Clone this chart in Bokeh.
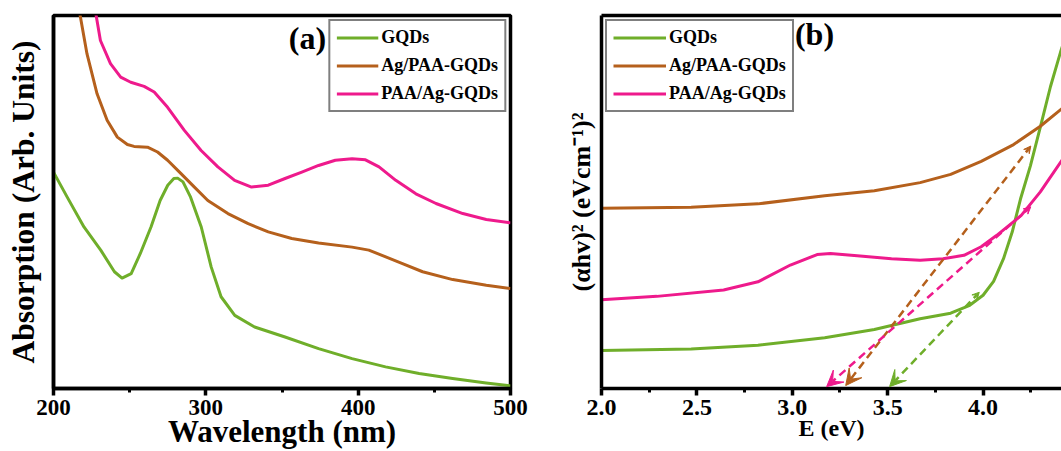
from bokeh.plotting import figure
from bokeh.layouts import row
from bokeh.models import (Legend, LegendItem, Label, LinearAxis, FixedTicker,
                          Range1d, Arrow, VeeHead, PrintfTickFormatter)
from bokeh.embed import file_html
from bokeh.resources import INLINE

# ---------------- data: panel (a) UV-vis absorption ----------------
gqd_wl = [200, 209, 220, 231, 240, 245, 251, 257, 264, 270, 275, 279, 281.5, 285,
          290, 297, 303.5, 310, 319, 332, 352, 374, 396, 418, 440, 462, 484, 500]
gqd_abs = [58.0, 51.3, 43.3, 37.1, 31.3, 29.6, 30.8, 36.2, 43.3, 50.4, 54.5, 56.3, 56.4, 55.4,
           51.3, 43.3, 32.6, 24.6, 19.6, 16.5, 13.8, 10.7, 8.0, 5.8, 4.0, 2.7, 1.5, 0.7]

agpaa_wl = [212, 217.5, 222, 228.6, 235.2, 241.9, 248.5, 252.9, 261.7, 268.3, 274.9, 283.7,
            292.5, 301.3, 314.5, 327.8, 341, 356.4, 374, 396, 407, 418.1, 429.1, 442.3,
            462.1, 484.1, 500]
agpaa_abs = [110, 100, 89.7, 79.0, 71.9, 67.4, 65.4, 64.9, 64.7, 63.4, 61.2, 57.6,
             54.0, 50.4, 46.9, 44.2, 42.0, 40.2, 39.0, 37.9, 37.1, 35.3, 33.5, 31.3,
             29.2, 27.7, 26.8]

paaag_wl = [224, 228, 230.8, 237.4, 244.1, 250.7, 259.5, 266.1, 274.9, 285.9, 296.9, 307.9,
            318.9, 330, 341, 352, 363, 374, 385, 396, 404.8, 413.7, 424.7, 437.9, 451.1,
            468.7, 484.1, 500]
paaag_abs = [110, 100, 93.3, 87.1, 83.5, 82.1, 81.0, 79.5, 75.4, 69.2, 63.8, 59.4,
             55.8, 54.0, 54.5, 56.3, 58.0, 59.8, 61.2, 61.6, 61.3, 59.4, 55.8, 52.2, 49.6,
             46.9, 45.3, 44.4]

a_ticks = [200, 300, 400, 500]
a_minor = [250, 350, 450]

# ---------------- data: panel (b) Tauc plot ----------------
gqd_E = [2.0, 2.47, 2.82, 3.17, 3.43, 3.67, 3.83, 3.93, 4.00, 4.055, 4.107, 4.153, 4.196,
         4.248, 4.301, 4.353, 4.406, 4.43]
gqd_tauc = [10.2, 10.6, 11.6, 13.6, 15.8, 18.7, 20.2, 22.3, 25.0, 28.7, 34.8, 42.0, 50.8,
            59.7, 70.3, 80.9, 90.2, 94.0]

agpaa_E = [2.0, 2.47, 2.82, 3.17, 3.43, 3.67, 3.83, 3.99, 4.16, 4.30, 4.42]
agpaa_tauc = [48.3, 48.6, 49.5, 51.7, 53.0, 55.2, 57.4, 60.9, 65.4, 70.3, 75.3]

paaag_E = [2.0, 2.29, 2.64, 2.82, 2.99, 3.13, 3.20, 3.34, 3.52, 3.67, 3.79, 3.90, 3.99,
           4.07, 4.20, 4.30, 4.42]
paaag_tauc = [23.8, 24.7, 26.4, 28.6, 33.1, 35.9, 36.2, 35.6, 34.8, 34.4, 34.8, 35.7, 38.0,
              41.0, 46.4, 52.7, 61.7]

# tangent (band-gap extrapolation) lines: GQDs, Ag/PAA-GQDs, PAA/Ag-GQDs
tan_E_top = [3.98, 4.25, 4.25]
tan_V_top = [25.8, 65.0, 48.7]
tan_E_end = [3.51, 3.28, 3.18]
tan_V_end = [0.5, 0.8, 0.5]

b_ticks = [2.0, 2.5, 3.0, 3.5, 4.0]
b_minor = [2.25, 2.75, 3.25, 3.75, 4.25]

labels = ["GQDs", "Ag/PAA-GQDs", "PAA/Ag-GQDs"]

# ---------------- styling ----------------
FONT = "Liberation Serif"
GREEN = "#6FAE2A"
BROWN = "#B5601C"
PINK = "#EE1A8C"
COLORS = [GREEN, BROWN, PINK]
LW = 3.5


def style_x(ax, ticks, minor, size):
    ax.ticker = FixedTicker(ticks=ticks, minor_ticks=minor)
    ax.axis_line_width = LW
    ax.axis_line_color = "black"
    ax.major_tick_line_width = LW
    ax.minor_tick_line_width = 3
    ax.major_tick_in = 0
    ax.major_tick_out = 7
    ax.minor_tick_in = 0
    ax.minor_tick_out = 4
    ax.major_label_text_font = FONT
    ax.major_label_text_font_style = "bold"
    ax.major_label_text_font_size = size
    ax.major_label_text_color = "black"
    ax.major_label_standoff = 4
    ax.axis_label_text_font = FONT
    ax.axis_label_text_font_style = "bold"
    ax.axis_label_text_color = "black"


def style_y(ax):
    ax.ticker = FixedTicker(ticks=[])
    ax.axis_line_width = LW
    ax.axis_line_color = "black"
    ax.major_tick_line_color = None
    ax.minor_tick_line_color = None
    ax.axis_label_text_font = FONT
    ax.axis_label_text_font_style = "bold"
    ax.axis_label_text_color = "black"


def make_legend(renderers, location, glyph_width):
    leg = Legend(items=[LegendItem(label=l, renderers=[r]) for l, r in zip(labels, renderers)],
                 location=location, margin=4, padding=6, spacing=7,
                 glyph_width=glyph_width, glyph_height=21, label_height=21,
                 label_standoff=3,
                 label_text_font=FONT, label_text_font_style="bold",
                 label_text_font_size="18px", label_text_color="black",
                 border_line_color="black", border_line_width=2.5,
                 background_fill_alpha=1)
    return leg


def text_label(x, y, txt, size):
    return Label(x=x, y=y, x_units="screen", y_units="screen", text=txt,
                 text_font=FONT, text_font_style="bold", text_font_size=size,
                 text_align="center", text_baseline="middle", text_color="black")


# ---------------- panel (a) ----------------
pa = figure(width=545, height=451, x_range=Range1d(200, 500), y_range=Range1d(0, 100),
            output_backend="svg", toolbar_location=None,
            min_border_left=53, min_border_right=35, min_border_top=15, min_border_bottom=63)
pa.grid.visible = False
pa.outline_line_color = "black"
pa.outline_line_width = LW
pa.outline_line_alpha = 1
pa.background_fill_color = "white"
pa.border_fill_color = "white"

ra = []
for xs, ys, c in [(gqd_wl, gqd_abs, GREEN), (agpaa_wl, agpaa_abs, BROWN), (paaag_wl, paaag_abs, PINK)]:
    ra.append(pa.line(xs, ys, line_color=c, line_width=3, line_join="round"))

style_x(pa.xaxis[0], a_ticks, a_minor, "23px")
pa.xaxis[0].axis_label = "Wavelength (nm)"
pa.xaxis[0].axis_label_text_font_size = "31px"
pa.xaxis[0].axis_label_standoff = -4
style_y(pa.yaxis[0])
pa.yaxis[0].axis_label = "Absorption (Arb. Units)"
pa.yaxis[0].axis_label_text_font_size = "31.5px"
pa.yaxis[0].axis_label_standoff = 13

pa.add_layout(make_legend(ra, "top_right", 42))
pa.add_layout(text_label(254, 351, "(a)", "32px"))

# ---------------- panel (b) ----------------
pb = figure(width=516, height=451, x_range=Range1d(2.0, 4.411), y_range=Range1d(0, 100),
            output_backend="svg", toolbar_location=None,
            min_border_left=56, min_border_right=0, min_border_top=15, min_border_bottom=60)
pb.grid.visible = False
pb.outline_line_color = None
pb.background_fill_color = "white"
pb.border_fill_color = "white"

rb = []
for xs, ys, c in [(gqd_E, gqd_tauc, GREEN), (agpaa_E, agpaa_tauc, BROWN), (paaag_E, paaag_tauc, PINK)]:
    rb.append(pb.line(xs, ys, line_color=c, line_width=3, line_join="round"))

for i, c in enumerate(COLORS):
    pb.add_layout(Arrow(x_start=tan_E_top[i], y_start=tan_V_top[i],
                        x_end=tan_E_end[i], y_end=tan_V_end[i],
                        line_color=c, line_width=2.5, line_dash="8 5",
                        start=VeeHead(size=7, fill_color=c, line_color=c, line_width=1),
                        end=VeeHead(size=16, fill_color=c, line_color=c, line_width=1)))

style_x(pb.xaxis[0], b_ticks, b_minor, "24px")
pb.xaxis[0].formatter = PrintfTickFormatter(format="%.1f")
pb.xaxis[0].axis_label = "E (eV)"
pb.xaxis[0].axis_label_text_font_size = "24px"
pb.xaxis[0].axis_label_standoff = -3
style_y(pb.yaxis[0])
pb.yaxis[0].axis_label = "(\u03b1hv)\u00b2 (eVcm\u207b\u00b9)\u00b2"
pb.yaxis[0].axis_label_text_font_size = "26px"
pb.yaxis[0].axis_label_standoff = 6

top_ax = LinearAxis(ticker=FixedTicker(ticks=[]), axis_line_width=LW, axis_line_color="black",
                    major_tick_line_color=None, minor_tick_line_color=None)
pb.add_layout(top_ax, "above")

pb.add_layout(make_legend(rb, "top_left", 53))
pb.add_layout(text_label(213, 355, "(b)", "32px"))

layout = row(pa, pb)
open("out.html", "w").write(file_html(layout, INLINE))
